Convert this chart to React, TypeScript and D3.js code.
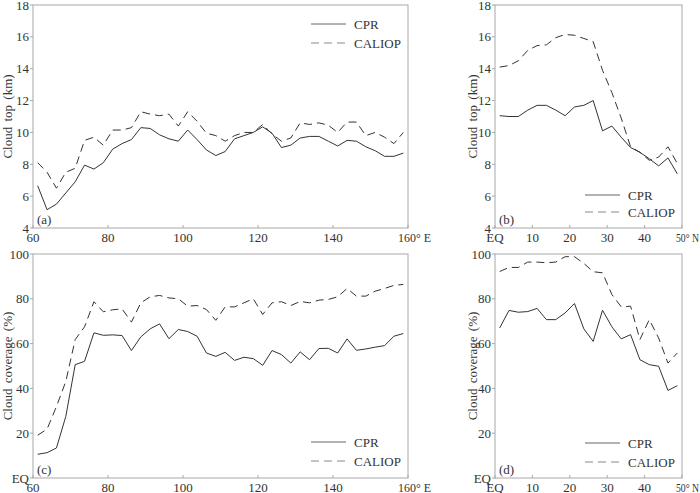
import { line, scaleLinear } from 'd3'

// longitude centres (60–160°E) and latitude centres (EQ–50°N), 2.5° bins
const lonBins = Array.from({ length: 40 }, (_, i) => 61.25 + i * 2.5)
const latBins = Array.from({ length: 20 }, (_, i) => 1.25 + i * 2.5)

const topLonCpr = [
  6.65, 5.15, 5.5, 6.2, 6.9, 7.95, 7.7, 8.1, 8.95, 9.3, 9.55, 10.3, 10.25, 9.85, 9.6, 9.45, 10.15, 9.55,
  8.9, 8.55, 8.8, 9.6, 9.8, 10.0, 10.35, 9.95, 9.05, 9.2, 9.65, 9.75, 9.75, 9.45, 9.15, 9.5, 9.45, 9.1,
  8.85, 8.5, 8.5, 8.7,
]
const topLonCaliop = [
  8.1, 7.5, 6.5, 7.5, 7.75, 9.5, 9.7, 9.2, 10.15, 10.15, 10.3, 11.3, 11.15, 11.05, 11.15, 10.4, 11.3, 10.7,
  9.95, 9.8, 9.45, 9.8, 10.0, 10.0, 10.5, 9.9, 9.45, 9.65, 10.6, 10.5, 10.6, 10.45, 10.0, 10.65, 10.65, 9.8,
  10.0, 9.7, 9.3, 10.0,
]
const topLatCpr = [
  11.05, 11.0, 11.0, 11.4, 11.7, 11.7, 11.4, 11.05, 11.6, 11.7, 12.0, 10.1, 10.4, 9.7, 9.05, 8.75, 8.35,
  7.9, 8.4, 7.4,
]
const topLatCaliop = [
  14.1, 14.2, 14.5, 15.15, 15.45, 15.5, 15.95, 16.15, 16.1, 15.9, 15.7, 13.9, 12.5, 10.9, 9.1, 8.75, 8.25,
  8.45, 9.1, 8.05,
]
const coverLonCpr = [
  10.6, 11.3, 13.4, 27.5, 50.6, 52.1, 64.8, 63.7, 63.9, 63.6, 56.9, 63.0, 66.6, 68.8, 62.2, 66.3, 65.4, 63.3,
  55.8, 54.3, 56.1, 52.5, 53.9, 53.3, 50.3, 56.9, 55.1, 51.3, 56.3, 52.8, 57.8, 57.9, 55.8, 62.1, 57.0, 57.6,
  58.4, 59.1, 63.3, 64.5,
]
const coverLonCaliop = [
  19.1, 21.8, 31.9, 43.1, 61.8, 67.5, 78.7, 74.2, 75.1, 75.5, 69.6, 78.2, 80.9, 81.5, 80.4, 80.0, 76.7, 77.0,
  75.2, 70.4, 76.4, 76.4, 78.2, 80.0, 73.0, 78.2, 78.7, 77.0, 78.8, 78.2, 79.4, 79.7, 80.9, 84.6, 81.2, 81.2,
  83.4, 84.6, 86.0, 86.4,
]
const coverLatCpr = [
  67.0, 74.8, 74.0, 74.3, 75.7, 70.7, 70.7, 73.7, 77.9, 66.6, 61.0, 74.9, 67.5, 62.1, 64.0, 52.8, 50.6, 49.9,
  39.1, 41.2,
]
const coverLatCaliop = [
  92.2, 94.0, 94.0, 96.4, 96.4, 96.1, 96.4, 98.8, 98.8, 95.8, 92.1, 91.6, 81.9, 76.4, 76.7, 61.8, 70.7, 62.5,
  51.3, 55.8,
]

const lonTicks = [60, 80, 100, 120, 140, 160]
const latTicks = [0, 10, 20, 30, 40, 50]
const topTicks = [4, 6, 8, 10, 12, 14, 16, 18]
const coverTicks = [0, 20, 40, 60, 80, 100]

const FONT = 'Liberation Serif'
const FS = 13
const INK = '#333'
const FRAME = '#a8a8a8'

type PanelProps = {
  readonly x0: number
  readonly x1: number
  readonly y0: number
  readonly y1: number
  readonly xs: readonly number[]
  readonly cpr: readonly number[]
  readonly caliop: readonly number[]
  readonly xDomain: [number, number]
  readonly yDomain: [number, number]
  readonly xTicks: readonly number[]
  readonly yTicks: readonly number[]
  readonly xLabel: (v: number) => string
  readonly yLabel: (v: number) => string
  readonly lastLabel: string
  readonly lastShift: number
  readonly lastWidth: number
  readonly title: string
  readonly titleX: number
  readonly tag: string
  readonly legendY: [number, number]
}

function Panel(p: PanelProps) {
  const x = scaleLinear().domain(p.xDomain).range([p.x0, p.x1])
  const y = scaleLinear().domain(p.yDomain).range([p.y1, p.y0])
  const path = (vals: readonly number[]) =>
    line<number>()
      .x((_, i) => x(p.xs[i]))
      .y((v) => y(v))(vals as number[]) ?? ''
  const lastTick = p.xTicks[p.xTicks.length - 1]
  const lgX = p.x1 - 97
  const labelY = p.y1 + 14
  return (
    <g>
      <rect x={p.x0} y={p.y0} width={p.x1 - p.x0} height={p.y1 - p.y0} fill="none" stroke={FRAME} strokeWidth={1} />
      {p.yTicks.map((t) => (
        <g key={`y${t}`}>
          <line x1={p.x0 - 3} x2={p.x0} y1={y(t)} y2={y(t)} stroke={FRAME} />
          <text x={p.x0 - 4} y={y(t)} dy="0.35em" textAnchor="end" fontFamily={FONT} fontSize={FS} fill={INK}>
            {p.yLabel(t)}
          </text>
        </g>
      ))}
      {p.xTicks.map((t) => (
        <g key={`x${t}`}>
          <line x1={x(t)} x2={x(t)} y1={p.y1} y2={p.y1 - 3} stroke={FRAME} />
          {t === lastTick ? (
            <text
              x={x(t) - p.lastShift}
              y={labelY}
              textLength={p.lastWidth}
              lengthAdjust="spacingAndGlyphs"
              fontFamily={FONT}
              fontSize={FS}
              fill={INK}
            >
              {p.lastLabel}
            </text>
          ) : (
            <text x={x(t)} y={labelY} textAnchor="middle" fontFamily={FONT} fontSize={FS} fill={INK}>
              {p.xLabel(t)}
            </text>
          )}
        </g>
      ))}
      <path d={path(p.cpr)} fill="none" stroke={INK} strokeWidth={1} />
      <path d={path(p.caliop)} fill="none" stroke={INK} strokeWidth={1} strokeDasharray="8,5" />
      <text
        transform={`translate(${p.titleX},${(p.y0 + p.y1) / 2}) rotate(-90)`}
        textAnchor="middle"
        dy="0.35em"
        wordSpacing={2}
        fontFamily={FONT}
        fontSize={FS}
        fill={INK}
      >
        {p.title}
      </text>
      <text x={p.x0 + 4} y={p.y1 - 4} fontFamily={FONT} fontSize={FS} fill={INK}>
        {p.tag}
      </text>
      <line x1={lgX} x2={lgX + 35} y1={p.legendY[0]} y2={p.legendY[0]} stroke="#666" />
      <text x={lgX + 43} y={p.legendY[0]} dy="0.35em" fontFamily={FONT} fontSize={FS} fill={INK}>
        CPR
      </text>
      <line x1={lgX} x2={lgX + 35} y1={p.legendY[1]} y2={p.legendY[1]} stroke="#888" strokeDasharray="8,5" />
      <text x={lgX + 43} y={p.legendY[1]} dy="0.35em" fontFamily={FONT} fontSize={FS} fill={INK}>
        CALIOP
      </text>
    </g>
  )
}

export default function App() {
  const lonLabel = (v: number) => `${v}`
  const latLabel = (v: number) => (v === 0 ? 'EQ' : `${v}`)
  const coverLabel = (v: number) => (v === 0 ? 'EQ' : `${v}`)
  const topLabel = (v: number) => `${v}`
  return (
    <svg width={700} height={493} style={{ position: 'absolute', left: 0, top: 0, background: '#fff' }}>
      <Panel
        x0={33} x1={408} y0={5} y1={228}
        xs={lonBins} cpr={topLonCpr} caliop={topLonCaliop}
        xDomain={[60, 160]} yDomain={[4, 18]}
        xTicks={lonTicks} yTicks={topTicks}
        xLabel={lonLabel} yLabel={topLabel} lastLabel="160° E" lastShift={10} lastWidth={33}
        title="Cloud top (km)" titleX={7} tag="(a)" legendY={[24, 43]}
      />
      <Panel
        x0={495} x1={682} y0={5} y1={228}
        xs={latBins} cpr={topLatCpr} caliop={topLatCaliop}
        xDomain={[0, 50]} yDomain={[4, 18]}
        xTicks={latTicks} yTicks={topTicks}
        xLabel={latLabel} yLabel={topLabel} lastLabel="50° N" lastShift={6} lastWidth={23}
        title="Cloud top (km)" titleX={472} tag="(b)" legendY={[195, 212]}
      />
      <Panel
        x0={33} x1={408} y0={254} y1={478}
        xs={lonBins} cpr={coverLonCpr} caliop={coverLonCaliop}
        xDomain={[60, 160]} yDomain={[0, 100]}
        xTicks={lonTicks} yTicks={coverTicks}
        xLabel={lonLabel} yLabel={coverLabel} lastLabel="160° E" lastShift={10} lastWidth={33}
        title="Cloud coverage (%)" titleX={7} tag="(c)" legendY={[442, 461]}
      />
      <Panel
        x0={495} x1={682} y0={254} y1={478}
        xs={latBins} cpr={coverLatCpr} caliop={coverLatCaliop}
        xDomain={[0, 50]} yDomain={[0, 100]}
        xTicks={latTicks} yTicks={coverTicks}
        xLabel={latLabel} yLabel={coverLabel} lastLabel="50° N" lastShift={6} lastWidth={23}
        title="Cloud coverage (%)" titleX={472} tag="(d)" legendY={[443, 462]}
      />
    </svg>
  )
}
